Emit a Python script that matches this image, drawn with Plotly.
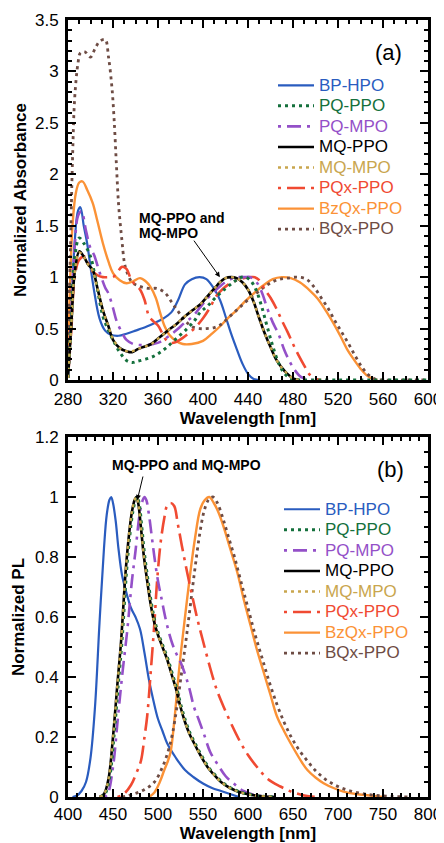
import plotly.graph_objects as go

# ---------------- (a) absorbance data ----------------
abs_bp_hpo_x = [280, 283, 286, 289, 291, 294, 297, 300, 303, 308, 313, 318, 325, 332, 340, 350, 358, 365, 372, 378, 384, 390, 397, 403, 409, 415, 420, 425, 430, 435, 440, 445, 450]
abs_bp_hpo_y = [0.05, 0.7, 1.35, 1.65, 1.68, 1.5, 1.33, 1.1, 0.88, 0.6, 0.48, 0.44, 0.43, 0.45, 0.48, 0.52, 0.56, 0.6, 0.66, 0.78, 0.93, 0.98, 1.0, 0.98, 0.9, 0.78, 0.62, 0.45, 0.3, 0.16, 0.06, 0.01, 0.0]

abs_pq_ppo_x = [280, 283, 286, 290, 294, 300, 305, 311, 316, 320, 326, 332, 337, 341, 348, 356, 362, 368, 376, 385, 392, 397, 404, 412, 420, 427, 432, 437, 442, 447, 452, 457, 462, 467, 472, 477, 482, 490, 520, 560, 600]
abs_pq_ppo_y = [0.02, 0.6, 1.2, 1.38, 1.33, 1.2, 0.95, 0.62, 0.48, 0.39, 0.27, 0.19, 0.17, 0.18, 0.2, 0.23, 0.27, 0.32, 0.4, 0.49, 0.57, 0.65, 0.72, 0.81, 0.89, 0.95, 0.99, 1.0, 0.97, 0.88, 0.72, 0.52, 0.33, 0.17, 0.07, 0.02, 0.005, 0.0, 0.0, 0.0, 0.0]

abs_pq_mpo_x = [280, 283, 286, 289, 292, 296, 300, 303, 308, 313, 316, 320, 323, 328, 332, 338, 344, 350, 356, 362, 370, 377, 384, 391, 397, 403, 409, 415, 421, 427, 432, 437, 442, 447, 452, 457, 462, 467, 472, 477, 482, 487, 492, 497]
abs_pq_mpo_y = [0.02, 0.65, 1.3, 1.6, 1.64, 1.45, 1.28, 1.22, 1.05, 0.9, 0.84, 0.7, 0.58, 0.46, 0.39, 0.35, 0.34, 0.34, 0.35, 0.37, 0.43, 0.49, 0.56, 0.62, 0.7, 0.78, 0.85, 0.91, 0.96, 0.99, 1.0, 1.0, 1.0, 0.96, 0.86, 0.7, 0.56, 0.45, 0.3, 0.18, 0.09, 0.03, 0.01, 0.0]

abs_mq_ppo_x = [280, 283, 286, 290, 294, 298, 302, 306, 311, 316, 320, 326, 332, 337, 342, 347, 354, 362, 370, 377, 384, 391, 398, 406, 411, 415, 420, 425, 430, 435, 440, 445, 450, 455, 460, 465, 470, 475, 480, 485]
abs_mq_ppo_y = [0.02, 0.55, 1.05, 1.25, 1.2, 1.12, 1.07, 0.9, 0.68, 0.52, 0.39, 0.31, 0.28, 0.27, 0.3, 0.32, 0.35, 0.42, 0.49, 0.55, 0.62, 0.68, 0.74, 0.84, 0.9, 0.95, 0.99, 1.0, 0.99, 0.95, 0.88, 0.76, 0.6, 0.45, 0.32, 0.2, 0.12, 0.06, 0.015, 0.0]

abs_mq_mpo_x = [280, 283, 286, 290, 294, 298, 302, 306, 311, 316, 320, 326, 332, 337, 342, 347, 354, 362, 370, 377, 384, 391, 398, 406, 411, 415, 420, 425, 430, 435, 440, 445, 450, 455, 460, 465, 470, 475, 480, 485]
abs_mq_mpo_y = [0.02, 0.55, 1.04, 1.24, 1.2, 1.12, 1.06, 0.9, 0.68, 0.52, 0.4, 0.31, 0.28, 0.28, 0.3, 0.32, 0.35, 0.42, 0.49, 0.55, 0.62, 0.68, 0.74, 0.84, 0.9, 0.95, 0.99, 1.0, 0.99, 0.95, 0.88, 0.76, 0.6, 0.45, 0.32, 0.2, 0.12, 0.06, 0.015, 0.0]

abs_pqx_ppo_x = [280, 283, 286, 290, 295, 300, 306, 311, 316, 320, 324, 328, 332, 336, 340, 344, 348, 352, 356, 360, 364, 368, 372, 376, 382, 388, 394, 400, 406, 412, 418, 424, 430, 436, 442, 446, 450, 455, 460, 465, 470, 475, 480, 485, 490, 495, 500, 505]
abs_pqx_ppo_y = [0.02, 0.5, 1.0, 1.17, 1.2, 1.08, 1.02, 1.0, 1.0, 1.0, 1.05, 1.1, 1.08, 0.98, 0.92, 0.88, 0.78, 0.62, 0.57, 0.53, 0.45, 0.38, 0.36, 0.37, 0.41, 0.46, 0.52, 0.6, 0.7, 0.82, 0.89, 0.94, 0.97, 0.99, 1.0, 1.0, 0.97, 0.88, 0.8, 0.7, 0.58, 0.47, 0.35, 0.24, 0.14, 0.05, 0.01, 0.0]

abs_bzqx_ppo_x = [280, 282, 284, 287, 290, 293, 297, 302, 306, 311, 316, 320, 326, 332, 338, 344, 349, 353, 358, 362, 366, 370, 376, 382, 390, 400, 408, 415, 422, 430, 436, 442, 448, 455, 462, 470, 478, 486, 495, 502, 510, 516, 522, 528, 534, 540, 545, 550, 555]
abs_bzqx_ppo_y = [0.3, 1.0, 1.5, 1.82, 1.92, 1.93, 1.85, 1.72, 1.55, 1.33, 1.15, 1.04, 0.97, 0.94, 0.96, 0.99, 0.96, 0.91, 0.8, 0.65, 0.52, 0.44, 0.38, 0.35, 0.35, 0.38, 0.45, 0.52, 0.6, 0.68, 0.75, 0.81, 0.87, 0.93, 0.98, 1.0, 0.99, 0.95, 0.87, 0.79, 0.66, 0.55, 0.43, 0.3, 0.2, 0.11, 0.05, 0.015, 0.0]

abs_bqx_ppo_x = [280, 282, 284, 286, 289, 291, 295, 300, 304, 308, 313, 316, 319, 321, 323, 325, 328, 330, 332, 337, 344, 352, 359, 366, 372, 377, 384, 390, 397, 403, 410, 416, 422, 428, 434, 440, 447, 454, 461, 468, 475, 484, 492, 499, 505, 511, 517, 523, 529, 535, 541, 547, 553, 560, 580, 600]
abs_bqx_ppo_y = [0.3, 1.2, 2.14, 2.75, 3.09, 3.18, 3.19, 3.14, 3.22, 3.29, 3.31, 3.14, 2.85, 2.53, 2.1, 1.7, 1.35, 1.15, 1.06, 0.95, 0.91, 0.89, 0.89, 0.85, 0.76, 0.68, 0.58, 0.52, 0.5, 0.5, 0.51, 0.54, 0.6, 0.66, 0.72, 0.78, 0.84, 0.9, 0.95, 0.98, 0.99, 1.0, 0.98, 0.9, 0.8, 0.7, 0.58, 0.47, 0.36, 0.24, 0.13, 0.05, 0.01, 0.0, 0.0, 0.0]

# ---------------- (b) PL data ----------------
pl_bp_hpo_x = [405, 410, 415, 420, 425, 430, 435, 440, 443, 446, 448, 450, 453, 456, 460, 465, 470, 475, 480, 485, 490, 495, 500, 505, 510, 520, 530, 540, 550, 560, 570, 580, 590]
pl_bp_hpo_y = [0.0, 0.005, 0.02, 0.05, 0.13, 0.3, 0.58, 0.83, 0.94, 0.99, 1.0, 0.98, 0.92, 0.83, 0.74, 0.68, 0.63, 0.6, 0.56, 0.48, 0.39, 0.32, 0.26, 0.22, 0.18, 0.13, 0.09, 0.065, 0.045, 0.03, 0.02, 0.01, 0.0]

pl_mq_ppo_x = [435, 440, 445, 450, 455, 459, 464, 468, 471, 474, 476, 478, 481, 484, 488, 492, 496, 500, 505, 510, 515, 520, 525, 530, 535, 540, 547, 555, 562, 570, 580, 592, 610, 630]
pl_mq_ppo_y = [0.0, 0.01, 0.06, 0.2, 0.38, 0.52, 0.75, 0.88, 0.95, 0.99, 1.0, 0.98, 0.9, 0.81, 0.72, 0.64, 0.58, 0.54, 0.5, 0.46, 0.41, 0.36, 0.3, 0.25, 0.21, 0.18, 0.14, 0.1, 0.075, 0.05, 0.03, 0.015, 0.004, 0.0]

pl_mq_mpo_x = [435, 440, 445, 450, 455, 459, 464, 468, 471, 474, 476, 478, 481, 484, 488, 492, 496, 500, 505, 510, 515, 520, 525, 530, 535, 540, 547, 555, 562, 570, 580, 592, 610, 630]
pl_mq_mpo_y = [0.0, 0.01, 0.06, 0.2, 0.38, 0.52, 0.75, 0.88, 0.95, 0.99, 1.0, 0.98, 0.9, 0.81, 0.72, 0.64, 0.58, 0.54, 0.5, 0.46, 0.41, 0.36, 0.3, 0.25, 0.21, 0.18, 0.14, 0.1, 0.075, 0.05, 0.03, 0.015, 0.004, 0.0]

pl_pq_ppo_x = [436, 441, 446, 451, 456, 460, 465, 469, 472, 475, 477, 479, 482, 485, 489, 493, 497, 501, 506, 511, 516, 521, 526, 531, 536, 541, 548, 556, 563, 571, 581, 593, 611, 631]
pl_pq_ppo_y = [0.0, 0.01, 0.06, 0.2, 0.38, 0.52, 0.75, 0.88, 0.95, 0.99, 1.0, 0.98, 0.9, 0.81, 0.72, 0.64, 0.58, 0.54, 0.5, 0.46, 0.41, 0.36, 0.3, 0.25, 0.21, 0.18, 0.14, 0.1, 0.075, 0.05, 0.03, 0.015, 0.004, 0.0]

pl_pq_mpo_x = [440, 444, 450, 455, 460, 466, 471, 475, 479, 482, 485, 487, 490, 493, 496, 500, 504, 508, 512, 516, 520, 525, 530, 535, 540, 545, 551, 558, 566, 575, 584, 595, 610, 630]
pl_pq_mpo_y = [0.0, 0.01, 0.1, 0.25, 0.4, 0.56, 0.72, 0.82, 0.93, 0.98, 1.0, 0.99, 0.94, 0.87, 0.8, 0.72, 0.66, 0.6, 0.55, 0.51, 0.48, 0.45, 0.41, 0.36, 0.3, 0.26, 0.21, 0.15, 0.11, 0.07, 0.045, 0.02, 0.005, 0.0]

pl_pqx_ppo_x = [455, 462, 470, 476, 481, 485, 488, 492, 496, 499, 503, 507, 510, 514, 518, 522, 527, 533, 538, 544, 550, 558, 565, 573, 582, 592, 600, 610, 622, 636, 648, 660, 675]
pl_pqx_ppo_y = [0.0, 0.01, 0.04, 0.08, 0.12, 0.2, 0.27, 0.42, 0.58, 0.72, 0.85, 0.93, 0.97, 0.98, 0.97, 0.91, 0.83, 0.74, 0.67, 0.59, 0.52, 0.43, 0.36, 0.3, 0.24, 0.18, 0.14, 0.1, 0.06, 0.035, 0.018, 0.007, 0.0]

pl_bzqx_ppo_x = [490, 496, 502, 507, 511, 514, 518, 522, 525, 530, 536, 541, 547, 552, 557, 562, 567, 573, 580, 588, 596, 603, 610, 618, 625, 632, 640, 651, 660, 666, 675, 684, 695, 706, 720, 735, 750]
pl_bzqx_ppo_y = [0.0, 0.015, 0.05, 0.09, 0.12, 0.15, 0.25, 0.38, 0.47, 0.6, 0.75, 0.86, 0.96, 0.99, 1.0, 0.98, 0.95, 0.9, 0.83, 0.75, 0.65, 0.57, 0.49, 0.41, 0.34, 0.27, 0.22, 0.16, 0.115, 0.09, 0.065, 0.046, 0.03, 0.018, 0.01, 0.005, 0.0]

pl_bqx_ppo_x = [460, 473, 485, 496, 505, 511, 516, 521, 526, 531, 536, 541, 546, 551, 556, 561, 566, 572, 578, 585, 592, 600, 608, 616, 624, 632, 640, 648, 656, 666, 676, 688, 700, 712, 726, 740, 760, 780]
pl_bqx_ppo_y = [0.0, 0.01, 0.025, 0.05, 0.1, 0.15, 0.21, 0.3, 0.41, 0.52, 0.64, 0.76, 0.87, 0.95, 0.99, 1.0, 0.98, 0.93, 0.87, 0.8, 0.72, 0.63, 0.54, 0.46, 0.38, 0.31, 0.25, 0.2, 0.16, 0.12, 0.085, 0.055, 0.035, 0.022, 0.012, 0.006, 0.002, 0.0]

names = ["BP-HPO", "PQ-PPO", "PQ-MPO", "MQ-PPO", "MQ-MPO", "PQx-PPO", "BzQx-PPO", "BQx-PPO"]
colors = ["#2a5cbf", "#14703c", "#9450c8", "#000000", "#c9a64e", "#f04a32", "#fb9236", "#6e4c44"]
dashes = ["solid", "3px,4px", "3px,6px,14px,6px", "solid", "3px,4px", "3px,6px,18px,6px", "solid", "3px,4px"]
widths = [2.2, 3, 2.6, 2.6, 2.4, 2.6, 2.4, 2.8]

abs_x = [abs_bp_hpo_x, abs_pq_ppo_x, abs_pq_mpo_x, abs_mq_ppo_x, abs_mq_mpo_x, abs_pqx_ppo_x, abs_bzqx_ppo_x, abs_bqx_ppo_x]
abs_y = [abs_bp_hpo_y, abs_pq_ppo_y, abs_pq_mpo_y, abs_mq_ppo_y, abs_mq_mpo_y, abs_pqx_ppo_y, abs_bzqx_ppo_y, abs_bqx_ppo_y]
pl_x = [pl_bp_hpo_x, pl_pq_ppo_x, pl_pq_mpo_x, pl_mq_ppo_x, pl_mq_mpo_x, pl_pqx_ppo_x, pl_bzqx_ppo_x, pl_bqx_ppo_x]
pl_y = [pl_bp_hpo_y, pl_pq_ppo_y, pl_pq_mpo_y, pl_mq_ppo_y, pl_mq_mpo_y, pl_pqx_ppo_y, pl_bzqx_ppo_y, pl_bqx_ppo_y]

# draw order so that black lies under the gold dots, green dots on top
order = [0, 6, 7, 5, 2, 3, 1, 4]

FONT = "Arial, Liberation Sans, sans-serif"
fig = go.Figure()


def legend_name(i):
    return f'<span style="color:{colors[i]};font-size:17px">{names[i]}</span>'


for i in order:
    fig.add_trace(go.Scatter(
        x=abs_x[i], y=abs_y[i], mode="lines", line_shape="spline",
        name=legend_name(i),
        line=dict(color=colors[i], width=widths[i], dash=dashes[i]),
        xaxis="x", yaxis="y", legend="legend", legendrank=i + 1))
for i in order:
    fig.add_trace(go.Scatter(
        x=pl_x[i], y=pl_y[i], mode="lines", line_shape="spline",
        name=legend_name(i),
        line=dict(color=colors[i], width=widths[i], dash=dashes[i]),
        xaxis="x2", yaxis="y2", legend="legend2", legendrank=i + 1))

# the page has an 8px body margin at top/left: the figure is sized to end at the window edge
OFF = 8
W, H = 444 - OFF, 843 - OFF


def px(xp):  # page pixel x -> paper fraction
    return (xp - OFF) / W


def py(yp):  # page pixel y -> paper fraction
    return (H - (yp - OFF)) / H


xdom = [px(68), px(428)]
ydom_a = [py(380), py(20)]
ydom_b = [py(797), py(437)]

axis_common = dict(
    showline=True, linewidth=3, linecolor="black", mirror="ticks",
    ticks="inside", ticklen=8, tickwidth=2, tickcolor="black",
    showgrid=False, zeroline=False,
    tickfont=dict(family=FONT, size=17, color="black"),
)
title_font = dict(family=FONT, size=17, color="black")
minor_common = dict(ticks="inside", ticklen=4, tickwidth=1.5, tickcolor="black")

fig.update_layout(
    width=W, height=H, margin=dict(l=0, r=0, t=0, b=0, autoexpand=False),
    paper_bgcolor="white", plot_bgcolor="white",
    xaxis=dict(domain=xdom, range=[280, 600], dtick=40, anchor="y",
               minor=dict(dtick=10, **minor_common), ticklabelstandoff=2,
               title=dict(text="<b>Wavelength [nm]</b>", font=title_font, standoff=2), **axis_common),
    yaxis=dict(domain=ydom_a, range=[0, 3.5], dtick=0.5, anchor="x",
               minor=dict(dtick=0.1, **minor_common), ticklabelstandoff=3,
               title=dict(text="<b>Normalized Absorbance</b>", font=title_font, standoff=5), **axis_common),
    xaxis2=dict(domain=xdom, range=[400, 800], dtick=50, anchor="y2",
                minor=dict(dtick=10, **minor_common), ticklabelstandoff=0,
                title=dict(text="<b>Wavelength [nm]</b>", font=title_font, standoff=2), **axis_common),
    yaxis2=dict(domain=ydom_b, range=[0, 1.2], dtick=0.2, anchor="x2",
                minor=dict(dtick=0.05, **minor_common), ticklabelstandoff=3,
                title=dict(text="<b>Normalized PL</b>", font=title_font, standoff=7), **axis_common),
    legend=dict(x=px(273), y=py(70), xanchor="left", yanchor="top",
                bgcolor="rgba(0,0,0,0)", font=dict(family=FONT, size=13.5),
                itemwidth=36, tracegroupgap=0, traceorder="normal"),
    legend2=dict(x=px(279), y=py(494), xanchor="left", yanchor="top",
                 bgcolor="rgba(0,0,0,0)", font=dict(family=FONT, size=13.5),
                 itemwidth=36, tracegroupgap=0, traceorder="normal"),
    showlegend=True,
)

fig.add_annotation(text="(a)", x=px(388), y=py(53), xref="paper", yref="paper",
                   xanchor="center", yanchor="middle",
                   showarrow=False, font=dict(family=FONT, size=22, color="black"))
fig.add_annotation(text="(b)", x=px(390), y=py(470), xref="paper", yref="paper",
                   xanchor="center", yanchor="middle",
                   showarrow=False, font=dict(family=FONT, size=22, color="black"))

fig.add_annotation(text="<b>MQ-PPO and</b>", x=341, y=1.575, xref="x", yref="y",
                   xanchor="left", yanchor="middle", align="left", showarrow=False,
                   font=dict(family=FONT, size=14, color="black"))
fig.add_annotation(text="<b>MQ-MPO</b>", x=341, y=1.43, xref="x", yref="y",
                   xanchor="left", yanchor="middle", align="left", showarrow=False,
                   font=dict(family=FONT, size=14, color="black"))
fig.add_annotation(text="", x=415, y=1.0, xref="x", yref="y", ax=-27, ay=-38,
                   showarrow=True, arrowhead=2, arrowsize=1, arrowwidth=1, arrowcolor="black")

fig.add_annotation(text="<b>MQ-PPO and MQ-MPO</b>", x=532, y=1.107, xref="x2", yref="y2",
                   xanchor="center", yanchor="middle", showarrow=False,
                   font=dict(family=FONT, size=14, color="black"))
fig.add_annotation(text="", x=477, y=0.99, xref="x2", yref="y2", ax=6, ay=-25,
                   showarrow=True, arrowhead=2, arrowsize=1, arrowwidth=1, arrowcolor="black")

fig.write_html("out.html")
